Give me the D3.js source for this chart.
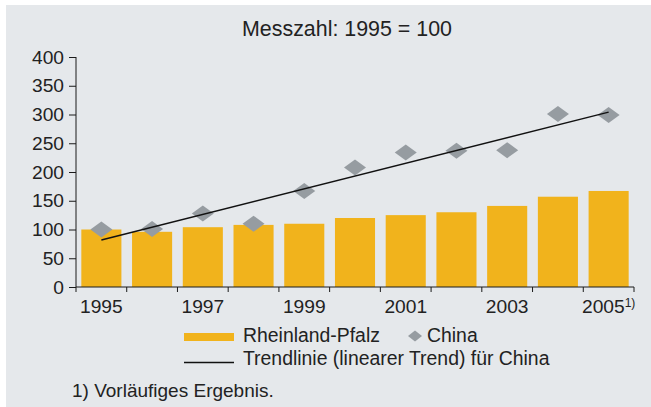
<!DOCTYPE html>
<html>
<head>
<meta charset="utf-8">
<script src="https://cdn.jsdelivr.net/npm/d3@7"></script>
<style>
  body { margin: 0; background: #fff; }
  svg { display: block; font-family: "Liberation Sans", Arial, sans-serif; }
  .axis path, .axis line { stroke: #1a1a1a; }
  .axis text { fill: #222; font-size: 19.2px; }
</style>
</head>
<body>
<div id="chart"></div>
<script>
// years (categories)
const years = ['1995', '1996', '1997', '1998', '1999', '2000', '2001', '2002', '2003', '2004', '2005'];
// Rheinland-Pfalz, Messzahl 1995 = 100
const rlp = [100, 96, 104, 108, 110, 120, 125, 130, 141, 157, 167];
// China, Messzahl 1995 = 100
const china = [100, 101, 128, 110, 167, 208, 234, 237, 238, 301, 299];
// y tick labels
const yTicks = [0, 50, 100, 150, 200, 250, 300, 350, 400];
// x labels shown (every other year)
const xLabels = ['1995', '1997', '1999', '2001', '2003', '2005'];

const W = 651, H = 407;
const margin = { top: 57, right: 17, bottom: 120, left: 76 };
const width = W - margin.left - margin.right;
const height = H - margin.top - margin.bottom;

const svg = d3.select('#chart').append('svg')
  .attr('width', W)
  .attr('height', H);

// panel background
svg.append('rect')
  .attr('x', 6).attr('y', 5)
  .attr('width', W - 6).attr('height', H - 5)
  .attr('fill', '#e5e8eb');

// title
svg.append('text')
  .attr('x', 347).attr('y', 36)
  .attr('text-anchor', 'middle')
  .attr('font-size', 21.4)
  .attr('fill', '#222')
  .text('Messzahl: 1995 = 100');

const g = svg.append('g')
  .attr('transform', 'translate(' + margin.left + ',' + margin.top + ')');

// scales
const x = d3.scaleBand().domain(years).range([0, width]).paddingInner(0.21).paddingOuter(0.105);
const xEdge = d3.scaleBand().domain(years).range([0, width]).padding(0);
const y = d3.scaleLinear().domain([0, 400]).range([height, 0]);

// bars
g.append('g').selectAll('rect')
  .data(rlp)
  .join('rect')
  .attr('x', (d, i) => x(years[i]))
  .attr('y', d => y(d))
  .attr('width', x.bandwidth())
  .attr('height', d => height - y(d))
  .attr('fill', '#f1b31c');

// y axis
const yAxis = d3.axisLeft(y).tickValues(yTicks).tickSize(7).tickPadding(5).tickSizeOuter(0);
g.append('g').attr('class', 'axis axis--y').call(yAxis)
  .call(s => s.select('.domain').attr('d', 'M0,' + height + 'V0'));

// x axis: labels at band centres, ticks at band edges
const xAxis = d3.axisBottom(xEdge).tickSize(0).tickPadding(12)
  .tickFormat(d => xLabels.includes(d) ? d : '');
const gx = g.append('g').attr('class', 'axis axis--x')
  .attr('transform', 'translate(0,' + height + ')')
  .call(xAxis);
gx.select('.domain').attr('d', 'M0,0H' + width);
const edges = years.map(d => xEdge(d)).concat([width]);
gx.selectAll('.edge')
  .data(edges)
  .join('line')
  .attr('class', 'edge')
  .attr('x1', d => d).attr('x2', d => d)
  .attr('y1', 0).attr('y2', 5)
  .attr('stroke', '#1a1a1a');
// footnote marker on 2005
gx.selectAll('.tick text')
  .filter(d => d === '2005')
  .append('tspan')
  .attr('dy', '-0.45em')
  .attr('font-size', 12)
  .text('1)');

// diamonds
const diamond = 'M-11,0L0,-8L11,0L0,8Z';
g.append('g').selectAll('path')
  .data(china)
  .join('path')
  .attr('d', diamond)
  .attr('transform', (d, i) => 'translate(' + (xEdge(years[i]) + xEdge.bandwidth() / 2) + ',' + y(d) + ')')
  .attr('fill', '#969ca1');

// linear trend for China (least squares)
const idx = years.map((d, i) => i);
const mx = d3.mean(idx), my = d3.mean(china);
const slope = d3.sum(idx, i => (i - mx) * (china[i] - my)) / d3.sum(idx, i => (i - mx) * (i - mx));
const trend = i => my + slope * (i - mx);
const cx = i => xEdge(years[i]) + xEdge.bandwidth() / 2;
g.append('line')
  .attr('x1', cx(0)).attr('y1', y(trend(0)))
  .attr('x2', cx(years.length - 1)).attr('y2', y(trend(years.length - 1)))
  .attr('stroke', '#111')
  .attr('stroke-width', 1.4);

// legend
const lg = svg.append('g').attr('font-size', 19.4).attr('fill', '#222');
lg.append('rect').attr('x', 184).attr('y', 333).attr('width', 50).attr('height', 8).attr('fill', '#f1b31c');
lg.append('text').attr('x', 243).attr('y', 342).text('Rheinland-Pfalz');
lg.append('path').attr('d', 'M-7,0L0,-5.5L7,0L0,5.5Z').attr('transform', 'translate(415,336)').attr('fill', '#969ca1');
lg.append('text').attr('x', 427).attr('y', 342).text('China');
lg.append('line').attr('x1', 184).attr('x2', 234).attr('y1', 362.5).attr('y2', 362.5).attr('stroke', '#111').attr('stroke-width', 1.4);
lg.append('text').attr('x', 243).attr('y', 365).text('Trendlinie (linearer Trend) für China');

// footnote
svg.append('text')
  .attr('x', 72).attr('y', 397)
  .attr('font-size', 19)
  .attr('fill', '#222')
  .text('1) Vorläufiges Ergebnis.');
</script>
</body>
</html>
